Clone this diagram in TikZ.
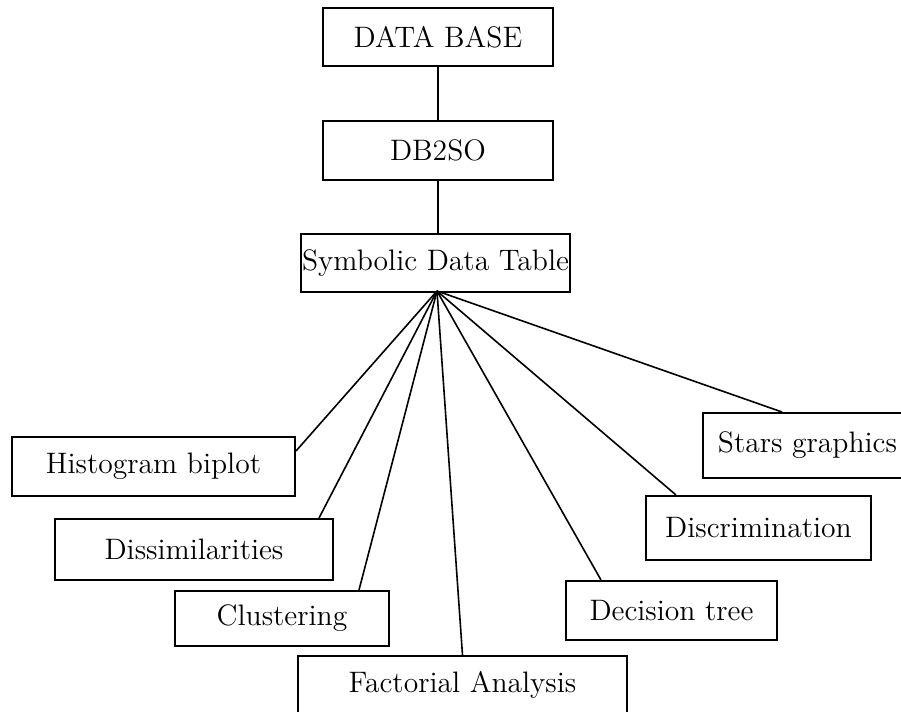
\documentclass[tikz,border=0pt]{standalone}
\usetikzlibrary{calc}
\begin{document}
\begin{tikzpicture}[x=0.5pt,y=-0.5pt,
  box/.style={draw,line width=1pt,rectangle,inner sep=0pt,font=\fontsize{14.8}{18}\selectfont},
  link/.style={line width=0.8pt}]
\useasboundingbox (0,0) rectangle (901,712);
\node[box,minimum width=115pt,minimum height=29pt] (db) at (438,37) {DATA BASE};
\node[box,minimum width=115pt,minimum height=29.5pt] (db2so) at (438,150.5) {DB2SO};
\node[box,minimum width=134.5pt,minimum height=29pt] (sdt) at (435.5,263) {Symbolic Data Table};
\node[box,minimum width=141.5pt,minimum height=29.5pt] (hist) at (153.5,466.5) {Histogram biplot};
\node[box,minimum width=139pt,minimum height=30.5pt] (diss) at (194,549.5) {Dissimilarities};
\node[box,minimum width=107pt,minimum height=27.5pt] (clus) at (282,618.5) {Clustering};
\node[box,minimum width=164.5pt,minimum height=29pt] (fact) at (462.5,685) {Factorial Analysis};
\node[box,minimum width=105.5pt,minimum height=29.5pt] (dec) at (671.5,610.5) {Decision tree};
\node[box,minimum width=112.5pt,minimum height=32pt] (disc) at (758.5,528) {Discrimination};
\node[box,minimum width=104.5pt,minimum height=32.5pt] (stars) at (807.5,445.5) {Stars graphics};
\coordinate (hub) at ([xshift=0.75pt,yshift=1pt]sdt.south);
\draw[link] (db.south) -- (db2so.north);
\draw[link] (db2so.south) -- (db2so.south |- sdt.north);
\draw[link] (hub) -- ([yshift=-7.5pt]hist.north east);
\draw[link] (hub) -- ([xshift=-7.5pt]diss.north east);
\draw[link] (hub) -- ([xshift=-15.5pt]clus.north east);
\draw[link] (hub) -- (fact.north);
\draw[link] (hub) -- ([xshift=18pt]dec.north west);
\draw[link] (hub) -- ([xshift=15.5pt]disc.north west);
\draw[link] (hub) -- ([xshift=40pt]stars.north west);
\end{tikzpicture}
\end{document}
